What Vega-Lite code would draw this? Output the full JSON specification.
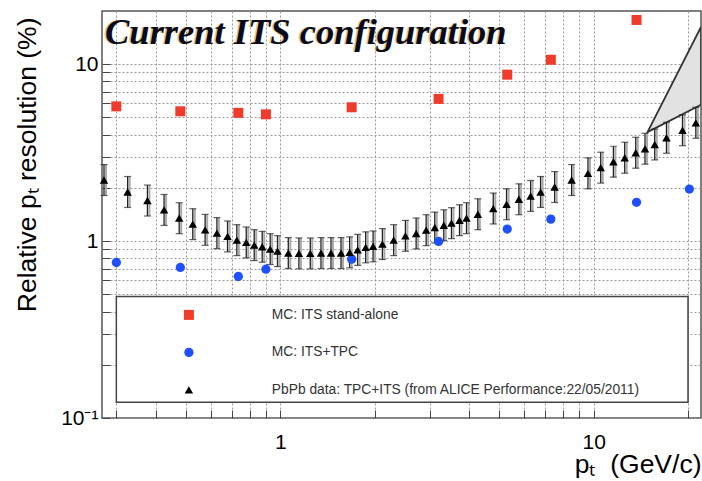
{
  "$schema": "https://vega.github.io/schema/vega-lite/v6.json",
  "width": 599,
  "height": 407,
  "autosize": {"type": "none"},
  "padding": {"left": 102, "top": 11, "right": 1, "bottom": 63},
  "background": "white",
  "config": {
    "view": {"stroke": "#555", "strokeWidth": 1.5},
    "axis": {
      "grid": true,
      "gridDash": [2, 2],
      "gridColor": "#9a9a9a",
      "gridWidth": 1,
      "domain": false,
      "tickColor": "#444",
      "tickSize": -8,
      "tickWidth": 1,
      "labelFont": "Liberation Sans",
      "labelFontSize": 21,
      "labelColor": "black",
      "labelOverlap": false,
      "titleFont": "Liberation Sans",
      "titleFontSize": 26.5,
      "titleFontWeight": "normal",
      "titleColor": "black"
    }
  },
  "datasets": {
    "pts": [
      {"series": "MC: ITS stand-alone", "pt": 0.30, "res": 5.78},
      {"series": "MC: ITS stand-alone", "pt": 0.48, "res": 5.42},
      {"series": "MC: ITS stand-alone", "pt": 0.735, "res": 5.31},
      {"series": "MC: ITS stand-alone", "pt": 0.90, "res": 5.21},
      {"series": "MC: ITS stand-alone", "pt": 1.69, "res": 5.71},
      {"series": "MC: ITS stand-alone", "pt": 3.2, "res": 6.37},
      {"series": "MC: ITS stand-alone", "pt": 5.3, "res": 8.73},
      {"series": "MC: ITS stand-alone", "pt": 7.3, "res": 10.6},
      {"series": "MC: ITS stand-alone", "pt": 13.7, "res": 17.8},
      {"series": "MC: ITS+TPC", "pt": 0.30, "res": 0.757},
      {"series": "MC: ITS+TPC", "pt": 0.48, "res": 0.710},
      {"series": "MC: ITS+TPC", "pt": 0.735, "res": 0.631},
      {"series": "MC: ITS+TPC", "pt": 0.90, "res": 0.694},
      {"series": "MC: ITS+TPC", "pt": 1.69, "res": 0.791},
      {"series": "MC: ITS+TPC", "pt": 3.2, "res": 0.996},
      {"series": "MC: ITS+TPC", "pt": 5.3, "res": 1.17},
      {"series": "MC: ITS+TPC", "pt": 7.3, "res": 1.332},
      {"series": "MC: ITS+TPC", "pt": 13.7, "res": 1.657},
      {"series": "MC: ITS+TPC", "pt": 20.2, "res": 1.97},
      {"series": "PbPb data: TPC+ITS (from ALICE Performance:22/05/2011)", "pt": 0.274, "res": 2.215},
      {"series": "PbPb data: TPC+ITS (from ALICE Performance:22/05/2011)", "pt": 0.326, "res": 1.896},
      {"series": "PbPb data: TPC+ITS (from ALICE Performance:22/05/2011)", "pt": 0.377, "res": 1.696},
      {"series": "PbPb data: TPC+ITS (from ALICE Performance:22/05/2011)", "pt": 0.426, "res": 1.501},
      {"series": "PbPb data: TPC+ITS (from ALICE Performance:22/05/2011)", "pt": 0.476, "res": 1.348},
      {"series": "PbPb data: TPC+ITS (from ALICE Performance:22/05/2011)", "pt": 0.526, "res": 1.247},
      {"series": "PbPb data: TPC+ITS (from ALICE Performance:22/05/2011)", "pt": 0.576, "res": 1.158},
      {"series": "PbPb data: TPC+ITS (from ALICE Performance:22/05/2011)", "pt": 0.628, "res": 1.110},
      {"series": "PbPb data: TPC+ITS (from ALICE Performance:22/05/2011)", "pt": 0.679, "res": 1.063},
      {"series": "PbPb data: TPC+ITS (from ALICE Performance:22/05/2011)", "pt": 0.727, "res": 1.013},
      {"series": "PbPb data: TPC+ITS (from ALICE Performance:22/05/2011)", "pt": 0.779, "res": 0.983},
      {"series": "PbPb data: TPC+ITS (from ALICE Performance:22/05/2011)", "pt": 0.826, "res": 0.949},
      {"series": "PbPb data: TPC+ITS (from ALICE Performance:22/05/2011)", "pt": 0.876, "res": 0.929},
      {"series": "PbPb data: TPC+ITS (from ALICE Performance:22/05/2011)", "pt": 0.929, "res": 0.901},
      {"series": "PbPb data: TPC+ITS (from ALICE Performance:22/05/2011)", "pt": 0.980, "res": 0.878},
      {"series": "PbPb data: TPC+ITS (from ALICE Performance:22/05/2011)", "pt": 1.061, "res": 0.856},
      {"series": "PbPb data: TPC+ITS (from ALICE Performance:22/05/2011)", "pt": 1.147, "res": 0.852},
      {"series": "PbPb data: TPC+ITS (from ALICE Performance:22/05/2011)", "pt": 1.247, "res": 0.852},
      {"series": "PbPb data: TPC+ITS (from ALICE Performance:22/05/2011)", "pt": 1.349, "res": 0.856},
      {"series": "PbPb data: TPC+ITS (from ALICE Performance:22/05/2011)", "pt": 1.452, "res": 0.856},
      {"series": "PbPb data: TPC+ITS (from ALICE Performance:22/05/2011)", "pt": 1.563, "res": 0.856},
      {"series": "PbPb data: TPC+ITS (from ALICE Performance:22/05/2011)", "pt": 1.665, "res": 0.864},
      {"series": "PbPb data: TPC+ITS (from ALICE Performance:22/05/2011)", "pt": 1.766, "res": 0.893},
      {"series": "PbPb data: TPC+ITS (from ALICE Performance:22/05/2011)", "pt": 1.873, "res": 0.922},
      {"series": "PbPb data: TPC+ITS (from ALICE Performance:22/05/2011)", "pt": 1.978, "res": 0.934},
      {"series": "PbPb data: TPC+ITS (from ALICE Performance:22/05/2011)", "pt": 2.118, "res": 0.962},
      {"series": "PbPb data: TPC+ITS (from ALICE Performance:22/05/2011)", "pt": 2.301, "res": 1.013},
      {"series": "PbPb data: TPC+ITS (from ALICE Performance:22/05/2011)", "pt": 2.508, "res": 1.071},
      {"series": "PbPb data: TPC+ITS (from ALICE Performance:22/05/2011)", "pt": 2.714, "res": 1.105},
      {"series": "PbPb data: TPC+ITS (from ALICE Performance:22/05/2011)", "pt": 2.921, "res": 1.153},
      {"series": "PbPb data: TPC+ITS (from ALICE Performance:22/05/2011)", "pt": 3.112, "res": 1.194},
      {"series": "PbPb data: TPC+ITS (from ALICE Performance:22/05/2011)", "pt": 3.325, "res": 1.230},
      {"series": "PbPb data: TPC+ITS (from ALICE Performance:22/05/2011)", "pt": 3.518, "res": 1.263},
      {"series": "PbPb data: TPC+ITS (from ALICE Performance:22/05/2011)", "pt": 3.732, "res": 1.313},
      {"series": "PbPb data: TPC+ITS (from ALICE Performance:22/05/2011)", "pt": 3.929, "res": 1.348},
      {"series": "PbPb data: TPC+ITS (from ALICE Performance:22/05/2011)", "pt": 4.270, "res": 1.419},
      {"series": "PbPb data: TPC+ITS (from ALICE Performance:22/05/2011)", "pt": 4.782, "res": 1.529},
      {"series": "PbPb data: TPC+ITS (from ALICE Performance:22/05/2011)", "pt": 5.273, "res": 1.616},
      {"series": "PbPb data: TPC+ITS (from ALICE Performance:22/05/2011)", "pt": 5.773, "res": 1.724},
      {"series": "PbPb data: TPC+ITS (from ALICE Performance:22/05/2011)", "pt": 6.293, "res": 1.800},
      {"series": "PbPb data: TPC+ITS (from ALICE Performance:22/05/2011)", "pt": 6.771, "res": 1.896},
      {"series": "PbPb data: TPC+ITS (from ALICE Performance:22/05/2011)", "pt": 7.506, "res": 2.022},
      {"series": "PbPb data: TPC+ITS (from ALICE Performance:22/05/2011)", "pt": 8.506, "res": 2.215},
      {"series": "PbPb data: TPC+ITS (from ALICE Performance:22/05/2011)", "pt": 9.590, "res": 2.416},
      {"series": "PbPb data: TPC+ITS (from ALICE Performance:22/05/2011)", "pt": 10.53, "res": 2.602},
      {"series": "PbPb data: TPC+ITS (from ALICE Performance:22/05/2011)", "pt": 11.56, "res": 2.812},
      {"series": "PbPb data: TPC+ITS (from ALICE Performance:22/05/2011)", "pt": 12.56, "res": 2.961},
      {"series": "PbPb data: TPC+ITS (from ALICE Performance:22/05/2011)", "pt": 13.62, "res": 3.160},
      {"series": "PbPb data: TPC+ITS (from ALICE Performance:22/05/2011)", "pt": 14.58, "res": 3.329},
      {"series": "PbPb data: TPC+ITS (from ALICE Performance:22/05/2011)", "pt": 15.66, "res": 3.520},
      {"series": "PbPb data: TPC+ITS (from ALICE Performance:22/05/2011)", "pt": 17.07, "res": 3.840},
      {"series": "PbPb data: TPC+ITS (from ALICE Performance:22/05/2011)", "pt": 19.20, "res": 4.236},
      {"series": "PbPb data: TPC+ITS (from ALICE Performance:22/05/2011)", "pt": 21.18, "res": 4.665}
    ],
    "err": [
      {"pt": 0.274, "lo": 1.811, "hi": 2.709},
      {"pt": 0.326, "lo": 1.550, "hi": 2.319},
      {"pt": 0.377, "lo": 1.387, "hi": 2.074},
      {"pt": 0.426, "lo": 1.227, "hi": 1.836},
      {"pt": 0.476, "lo": 1.102, "hi": 1.649},
      {"pt": 0.526, "lo": 1.020, "hi": 1.525},
      {"pt": 0.576, "lo": 0.947, "hi": 1.416},
      {"pt": 0.628, "lo": 0.908, "hi": 1.358},
      {"pt": 0.679, "lo": 0.869, "hi": 1.300},
      {"pt": 0.727, "lo": 0.828, "hi": 1.239},
      {"pt": 0.779, "lo": 0.804, "hi": 1.202},
      {"pt": 0.826, "lo": 0.776, "hi": 1.161},
      {"pt": 0.876, "lo": 0.760, "hi": 1.136},
      {"pt": 0.929, "lo": 0.737, "hi": 1.102},
      {"pt": 0.980, "lo": 0.718, "hi": 1.074},
      {"pt": 1.061, "lo": 0.700, "hi": 1.047},
      {"pt": 1.147, "lo": 0.697, "hi": 1.042},
      {"pt": 1.247, "lo": 0.697, "hi": 1.042},
      {"pt": 1.349, "lo": 0.700, "hi": 1.047},
      {"pt": 1.452, "lo": 0.700, "hi": 1.047},
      {"pt": 1.563, "lo": 0.700, "hi": 1.047},
      {"pt": 1.665, "lo": 0.706, "hi": 1.057},
      {"pt": 1.766, "lo": 0.730, "hi": 1.092},
      {"pt": 1.873, "lo": 0.754, "hi": 1.128},
      {"pt": 1.978, "lo": 0.764, "hi": 1.142},
      {"pt": 2.118, "lo": 0.787, "hi": 1.177},
      {"pt": 2.301, "lo": 0.828, "hi": 1.239},
      {"pt": 2.508, "lo": 0.876, "hi": 1.310},
      {"pt": 2.714, "lo": 0.904, "hi": 1.351},
      {"pt": 2.921, "lo": 0.943, "hi": 1.410},
      {"pt": 3.112, "lo": 0.976, "hi": 1.460},
      {"pt": 3.325, "lo": 1.006, "hi": 1.504},
      {"pt": 3.518, "lo": 1.033, "hi": 1.545},
      {"pt": 3.732, "lo": 1.074, "hi": 1.606},
      {"pt": 3.929, "lo": 1.102, "hi": 1.649},
      {"pt": 4.270, "lo": 1.160, "hi": 1.735},
      {"pt": 4.782, "lo": 1.250, "hi": 1.870},
      {"pt": 5.273, "lo": 1.321, "hi": 1.976},
      {"pt": 5.773, "lo": 1.410, "hi": 2.108},
      {"pt": 6.293, "lo": 1.472, "hi": 2.201},
      {"pt": 6.771, "lo": 1.550, "hi": 2.319},
      {"pt": 7.506, "lo": 1.653, "hi": 2.473},
      {"pt": 8.506, "lo": 1.811, "hi": 2.709},
      {"pt": 9.590, "lo": 1.975, "hi": 2.955},
      {"pt": 10.53, "lo": 2.128, "hi": 3.182},
      {"pt": 11.56, "lo": 2.299, "hi": 3.439},
      {"pt": 12.56, "lo": 2.421, "hi": 3.621},
      {"pt": 13.62, "lo": 2.584, "hi": 3.865},
      {"pt": 14.58, "lo": 2.722, "hi": 4.071},
      {"pt": 15.66, "lo": 2.878, "hi": 4.305},
      {"pt": 17.07, "lo": 3.140, "hi": 4.696},
      {"pt": 19.20, "lo": 3.464, "hi": 5.181},
      {"pt": 21.18, "lo": 3.814, "hi": 5.705}
    ],
    "box": [{"x1": 0.30, "x2": 20.0, "y1": 0.486, "y2": 0.1229}],
    "wedge": [
      {"pt": 14.85, "lo": 4.13, "hi": 4.13},
      {"pt": 22.0, "lo": 5.90, "hi": 16.25}
    ],
    "label": [{"text": "Current ITS configuration", "pt": 0.276, "res": 13.1}]
  },
  "layer": [
    {
      "data": {"name": "box"},
      "mark": {"type": "rect", "fill": "white", "stroke": "#444", "strokeWidth": 1.5},
      "encoding": {
        "x": {"field": "x1", "type": "quantitative", "scale": {"type": "log", "domain": [0.27, 22], "nice": false, "zero": false},
          "axis": {
            "values": [0.3, 0.4, 0.5, 0.6, 0.7, 0.8, 0.9, 1, 2, 3, 4, 5, 6, 7, 8, 9, 10, 20],
            "labelExpr": "datum.value == 1 ? '1' : (datum.value == 10 ? '10' : '')",
            "labelPadding": 21,
            "title": "pₜ\u00a0\u00a0(GeV/c)",
            "titleX": 599,
            "titleY": 54,
            "titleAlign": "right",
            "titleBaseline": "alphabetic"
          }
        },
        "x2": {"field": "x2"},
        "y": {"field": "y1", "type": "quantitative", "scale": {"type": "log", "domain": [0.1, 20], "nice": false, "zero": false},
          "axis": {
            "values": [0.1, 0.2, 0.3, 0.4, 0.5, 0.6, 0.7, 0.8, 0.9, 1, 2, 3, 4, 5, 6, 7, 8, 9, 10],
            "labelExpr": "datum.value == 0.1 ? '10⁻¹' : (datum.value == 1 ? '1' : (datum.value == 10 ? '10' : ''))",
            "labelPadding": 12,
            "title": "Relative pₜ resolution (%)",
            "titleX": -67,
            "titleY": 6,
            "titleAngle": -90,
            "titleAlign": "right",
            "titleBaseline": "alphabetic"
          }
        },
        "y2": {"field": "y2"}
      }
    },
    {
      "data": {"name": "wedge"},
      "mark": {"type": "area", "fill": "#e2e2e2", "stroke": "#333", "strokeWidth": 1.8, "clip": true},
      "encoding": {
        "x": {"field": "pt", "type": "quantitative"},
        "y": {"field": "hi", "type": "quantitative"},
        "y2": {"field": "lo"}
      }
    },
    {
      "data": {"name": "err"},
      "mark": {"type": "rule", "color": "#aaaaaa", "strokeWidth": 2, "xOffset": 2},
      "encoding": {
        "x": {"field": "pt", "type": "quantitative"},
        "y": {"field": "lo", "type": "quantitative"},
        "y2": {"field": "hi"}
      }
    },
    {
      "data": {"name": "err"},
      "mark": {"type": "rule", "color": "#222", "strokeWidth": 1.3},
      "encoding": {
        "x": {"field": "pt", "type": "quantitative"},
        "y": {"field": "lo", "type": "quantitative"},
        "y2": {"field": "hi"}
      }
    },
    {
      "data": {"name": "err"},
      "mark": {"type": "tick", "orient": "horizontal", "color": "#222", "size": 7, "thickness": 1.2},
      "encoding": {
        "x": {"field": "pt", "type": "quantitative"},
        "y": {"field": "lo", "type": "quantitative"}
      }
    },
    {
      "data": {"name": "err"},
      "mark": {"type": "tick", "orient": "horizontal", "color": "#222", "size": 7, "thickness": 1.2},
      "encoding": {
        "x": {"field": "pt", "type": "quantitative"},
        "y": {"field": "hi", "type": "quantitative"}
      }
    },
    {
      "data": {"name": "pts"},
      "mark": {"type": "point", "filled": true, "opacity": 1},
      "encoding": {
        "x": {"field": "pt", "type": "quantitative"},
        "y": {"field": "res", "type": "quantitative"},
        "color": {
          "field": "series", "type": "nominal",
          "scale": {"domain": ["MC: ITS stand-alone", "MC: ITS+TPC", "PbPb data: TPC+ITS (from ALICE Performance:22/05/2011)"], "range": ["#ef3b2c", "#1f4fff", "#000000"]},
          "legend": {
            "orient": "none", "legendX": 80, "legendY": 297, "title": null,
            "labelFont": "Liberation Sans", "labelFontSize": 13.8, "labelColor": "#333",
            "labelOffset": 76, "rowPadding": 22.5, "symbolSize": 75, "symbolStrokeWidth": 0,
            "padding": 0, "labelLimit": 600
          }
        },
        "shape": {
          "field": "series", "type": "nominal",
          "scale": {"domain": ["MC: ITS stand-alone", "MC: ITS+TPC", "PbPb data: TPC+ITS (from ALICE Performance:22/05/2011)"], "range": ["square", "circle", "triangle-up"]},
          "legend": {
            "orient": "none", "legendX": 80, "legendY": 297, "title": null,
            "labelFont": "Liberation Sans", "labelFontSize": 13.8, "labelColor": "#333",
            "labelOffset": 76, "rowPadding": 22.5, "symbolSize": 75, "symbolStrokeWidth": 0,
            "padding": 0, "labelLimit": 600
          }
        },
        "size": {
          "field": "series", "type": "nominal", "legend": null,
          "scale": {"domain": ["MC: ITS stand-alone", "MC: ITS+TPC", "PbPb data: TPC+ITS (from ALICE Performance:22/05/2011)"], "range": [100, 72, 105]}
        }
      }
    },
    {
      "data": {"name": "label"},
      "mark": {"type": "text", "font": "Liberation Serif", "fontSize": 36.5, "fontWeight": "bold", "fontStyle": "italic", "align": "left", "baseline": "alphabetic", "color": "#c9a23a", "dx": -1.5, "opacity": 0.6},
      "encoding": {
        "x": {"field": "pt", "type": "quantitative"},
        "y": {"field": "res", "type": "quantitative"},
        "text": {"field": "text"}
      }
    },
    {
      "data": {"name": "label"},
      "mark": {"type": "text", "font": "Liberation Serif", "fontSize": 36.5, "fontWeight": "bold", "fontStyle": "italic", "align": "left", "baseline": "alphabetic", "color": "#0a0a1a"},
      "encoding": {
        "x": {"field": "pt", "type": "quantitative"},
        "y": {"field": "res", "type": "quantitative"},
        "text": {"field": "text"}
      }
    }
  ]
}
